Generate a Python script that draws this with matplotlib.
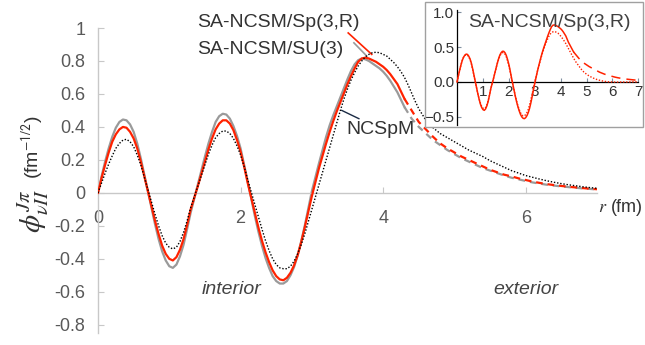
import numpy as np
import matplotlib
matplotlib.use("Agg")
import matplotlib.pyplot as plt
from matplotlib.patches import Rectangle

plt.rcParams['font.family'] = ['Liberation Sans', 'DejaVu Sans']
plt.rcParams['mathtext.fontset'] = 'stix'

# radial grid (fm) on which the curves were read off:
# every 0.05 fm up to 4.5 fm, every 0.1 fm in the tail
r = np.concatenate([np.linspace(0, 4.5, 91), np.linspace(4.6, 7.0, 25)])

# SA-NCSM/Sp(3,R)
phi_sp = [0.0, 0.09, 0.17, 0.245, 0.31, 0.355, 0.385, 0.40, 0.395, 0.37,
          0.33, 0.27, 0.19, 0.10, 0.01, -0.08, -0.17, -0.25, -0.32, -0.37,
          -0.40, -0.41, -0.39, -0.345, -0.28, -0.195, -0.10, -0.03, 0.04, 0.115,
          0.19, 0.265, 0.33, 0.385, 0.42, 0.44, 0.44, 0.42, 0.38, 0.32,
          0.25, 0.16, 0.06, -0.03, -0.12, -0.21, -0.29, -0.36, -0.42, -0.47,
          -0.505, -0.525, -0.53, -0.515, -0.485, -0.44, -0.38, -0.30, -0.21, -0.115,
          -0.02, 0.065, 0.15, 0.225, 0.30, 0.37, 0.435, 0.495, 0.55, 0.605,
          0.66, 0.71, 0.755, 0.795, 0.815, 0.82, 0.815, 0.805, 0.795, 0.78,
          0.765, 0.745, 0.72, 0.69, 0.66, 0.615, 0.57, 0.535, 0.50, 0.465,
          0.43,
          0.385, 0.34, 0.30, 0.27, 0.245, 0.22, 0.20, 0.18, 0.16, 0.14,
          0.125, 0.11, 0.10, 0.088, 0.078, 0.068, 0.06, 0.053, 0.047, 0.042,
          0.037, 0.033, 0.029, 0.025, 0.022]

# SA-NCSM/SU(3)
phi_su3 = [0.0, 0.10, 0.19, 0.27, 0.34, 0.395, 0.43, 0.445, 0.44, 0.415,
           0.37, 0.30, 0.21, 0.11, 0.01, -0.09, -0.19, -0.28, -0.355, -0.41,
           -0.445, -0.455, -0.435, -0.385, -0.315, -0.22, -0.12, -0.035, 0.05, 0.135,
           0.22, 0.30, 0.37, 0.43, 0.465, 0.48, 0.475, 0.45, 0.405, 0.345,
           0.27, 0.17, 0.07, -0.035, -0.14, -0.235, -0.32, -0.395, -0.455, -0.505,
           -0.535, -0.55, -0.55, -0.535, -0.50, -0.45, -0.38, -0.295, -0.20, -0.095,
           0.01, 0.095, 0.18, 0.26, 0.34, 0.41, 0.47, 0.525, 0.58, 0.635,
           0.69, 0.74, 0.78, 0.805, 0.815, 0.81, 0.80, 0.785, 0.77, 0.755,
           0.735, 0.71, 0.68, 0.645, 0.61, 0.565, 0.52, 0.485, 0.45, 0.425,
           0.40,
           0.36, 0.32, 0.29, 0.26, 0.235, 0.21, 0.19, 0.17, 0.15, 0.135,
           0.12, 0.105, 0.092, 0.082, 0.072, 0.063, 0.056, 0.049, 0.044, 0.039,
           0.035, 0.031, 0.027, 0.024, 0.02]

# NCSpM
phi_ncspm = [0.0, 0.06, 0.12, 0.175, 0.225, 0.27, 0.30, 0.32, 0.325, 0.31,
             0.28, 0.23, 0.17, 0.095, 0.02, -0.055, -0.13, -0.20, -0.26, -0.305,
             -0.33, -0.34, -0.33, -0.295, -0.24, -0.17, -0.09, -0.025, 0.04, 0.105,
             0.17, 0.235, 0.29, 0.335, 0.36, 0.375, 0.375, 0.36, 0.33, 0.285,
             0.23, 0.16, 0.08, 0.005, -0.07, -0.145, -0.22, -0.29, -0.35, -0.40,
             -0.435, -0.455, -0.46, -0.46, -0.445, -0.415, -0.37, -0.315, -0.25, -0.175,
             -0.10, -0.025, 0.05, 0.125, 0.20, 0.275, 0.35, 0.425, 0.50, 0.57,
             0.63, 0.685, 0.73, 0.77, 0.80, 0.825, 0.84, 0.85, 0.853, 0.85,
             0.84, 0.83, 0.81, 0.79, 0.765, 0.735, 0.70, 0.655, 0.605, 0.555,
             0.51,
             0.44, 0.395, 0.36, 0.335, 0.31, 0.285, 0.26, 0.24, 0.22, 0.195,
             0.175, 0.155, 0.135, 0.12, 0.105, 0.094, 0.083, 0.073, 0.064, 0.056,
             0.049, 0.043, 0.037, 0.032, 0.028]

# inset: Sp(3,R) dotted curve
phi_inset_dot = [0.0, 0.09, 0.17, 0.245, 0.31, 0.355, 0.38, 0.39, 0.385, 0.36,
                 0.32, 0.26, 0.18, 0.09, 0.0, -0.085, -0.17, -0.245, -0.305, -0.355,
                 -0.38, -0.385, -0.37, -0.33, -0.27, -0.19, -0.10, -0.03, 0.04, 0.115,
                 0.19, 0.26, 0.32, 0.37, 0.405, 0.42, 0.42, 0.40, 0.36, 0.30,
                 0.23, 0.145, 0.05, -0.035, -0.12, -0.205, -0.28, -0.345, -0.40, -0.445,
                 -0.475, -0.49, -0.49, -0.47, -0.44, -0.395, -0.33, -0.255, -0.17, -0.085,
                 0.0, 0.075, 0.15, 0.22, 0.29, 0.355, 0.42, 0.475, 0.53, 0.575,
                 0.62, 0.66, 0.69, 0.71, 0.72, 0.725, 0.72, 0.71, 0.70, 0.68,
                 0.66, 0.635, 0.61, 0.58, 0.55, 0.515, 0.48, 0.445, 0.41, 0.375,
                 0.34,
                 0.28, 0.23, 0.18, 0.14, 0.11, 0.085, 0.065, 0.048, 0.034, 0.023,
                 0.014, 0.007, 0.002, 0.0, -0.002, -0.003, -0.003, -0.003, -0.002, -0.002,
                 -0.001, -0.001, 0.0, 0.0, 0.0]

y_ticks = [1, 0.8, 0.6, 0.4, 0.2, 0, -0.2, -0.4, -0.6, -0.8]
y_tick_labels = ['1', '0.8', '0.6', '0.4', '0.2', '0', '-0.2', '-0.4', '-0.6', '-0.8']
x_ticks = [0, 2, 4, 6]
x_tick_labels = ['0', '2', '4', '6']
inset_y_ticks = [-0.5, 0.0, 0.5, 1.0]
inset_y_labels = ['\u22120.5', '0.0', '0.5', '1.0']
inset_x_ticks = [1, 2, 3, 4, 5, 6, 7]

RED = '#ff2200'
GRAY = '#9a9a9a'
AXC = '#c8c8c8'
TXT = '#595959'

fig = plt.figure(figsize=(6.45, 3.45), dpi=100)
W, H = 645.0, 345.0

ax = fig.add_axes([98 / W, (H - 333) / H, (597 - 98) / W, (333 - 28) / H])
ax.set_xlim(0, 7)
ax.set_ylim(-0.85, 1.0)
for s in ['top', 'right']:
    ax.spines[s].set_visible(False)
ax.spines['bottom'].set_position(('data', 0))
ax.spines['left'].set_bounds(-0.85, 1.0)
for s in ['left', 'bottom']:
    ax.spines[s].set_color(AXC)
    ax.spines[s].set_linewidth(1.0)
ax.set_yticks(y_ticks)
ax.set_yticklabels(y_tick_labels)
ax.set_xticks(x_ticks)
ax.set_xticklabels(x_tick_labels)
ax.tick_params(axis='both', direction='in', length=4, color=AXC,
               labelsize=13, labelcolor=TXT)
ax.tick_params(axis='y', pad=9)
ax.tick_params(axis='x', pad=12)

split = 4.3
solid = r <= split + 1e-9
tail = r >= split - 1e-9
su3 = np.asarray(phi_su3)
sp = np.asarray(phi_sp)

ax.plot(r[solid], su3[solid], color=GRAY, lw=1.6, zorder=2)
ax.plot(r[tail], su3[tail], color=GRAY, lw=1.6, ls=(0, (3, 2.2)), zorder=2)
ax.plot(r[solid], sp[solid], color=RED, lw=1.6, zorder=3)
ax.plot(r[tail], sp[tail], color=RED, lw=1.6, ls=(0, (3, 2.2)), zorder=3)
ax.plot(r, phi_ncspm, color='black', lw=1.0, ls=(0, (1, 1.3)), zorder=4)

# label pointers
ax.plot([3.51, 3.84], [0.97, 0.84], color=RED, lw=1.2)
ax.plot([3.59, 3.77], [0.91, 0.83], color=GRAY, lw=1.2)
ax.plot([3.42, 3.66], [0.50, 0.45], color='#1a2a44', lw=1.0)

ax.text(3.675, 1.036, 'SA-NCSM/Sp(3,R)', ha='right', va='center', fontsize=14, color='#333333')
ax.text(3.436, 0.867, 'SA-NCSM/SU(3)', ha='right', va='center', fontsize=14, color='#333333')
ax.text(3.49, 0.382, 'NCSpM', ha='left', va='center', fontsize=14, color='#333333')
ax.text(1.88, -0.588, 'interior', ha='center', va='center', fontsize=14,
        style='italic', color='#444444')
ax.text(6.0, -0.588, 'exterior', ha='center', va='center', fontsize=14,
        style='italic', color='#444444')
ax.text(7.01, -0.09, r'$\mathit{r}$ (fm)', ha='left', va='center', fontsize=13, color='#333333')

fig.text(33 / W, 1 - 211 / H, r'$\phi^{J\pi}_{\nu II}$', rotation=90,
         ha='center', va='center', fontsize=21, color='#333333')
fig.text(33 / W, 1 - 147 / H, r'(fm$^{\mathsf{-1/2}}$)', rotation=90,
         ha='center', va='center', fontsize=14, color='#333333')

# inset
axi = fig.add_axes([425 / W, (H - 127) / H, 218 / W, 125 / H])
axi.set_xlim(-1.24, 7.18)
axi.set_ylim(-0.65, 1.15)
axi.spines['top'].set_visible(False)
axi.spines['right'].set_visible(False)
axi.spines['left'].set_position(('data', 0))
axi.spines['bottom'].set_position(('data', 0))
axi.spines['left'].set_bounds(-0.62, 1.03)
axi.spines['bottom'].set_bounds(0, 7)
axi.spines['left'].set_linewidth(0.9)
axi.spines['bottom'].set_linewidth(0.9)
axi.set_yticks(inset_y_ticks)
axi.set_yticklabels(inset_y_labels)
axi.set_xticks(inset_x_ticks)
axi.tick_params(axis='both', direction='in', length=3, color='#8090a0',
                labelsize=11, labelcolor='#333333', pad=2)
axi.add_patch(Rectangle((0, 0), 1, 1, transform=axi.transAxes, fill=False,
                        edgecolor='#a0a0a0', lw=1.0, clip_on=False, zorder=5))

isplit = 4.5
isolid = r <= isplit + 1e-9
itail = r >= isplit - 1e-9
axi.plot(r[isolid], sp[isolid], color=RED, lw=1.1, zorder=3)
axi.plot(r[itail], sp[itail], color=RED, lw=1.1, ls=(0, (6, 4)), zorder=3)
axi.plot(r, phi_inset_dot, color=RED, lw=1.0, ls=(0, (1, 1.2)), zorder=3)
axi.text(3.55, 0.86, 'SA-NCSM/Sp(3,R)', ha='center', va='center', fontsize=14, color='#404040')

fig.savefig('out.png', dpi=100)
